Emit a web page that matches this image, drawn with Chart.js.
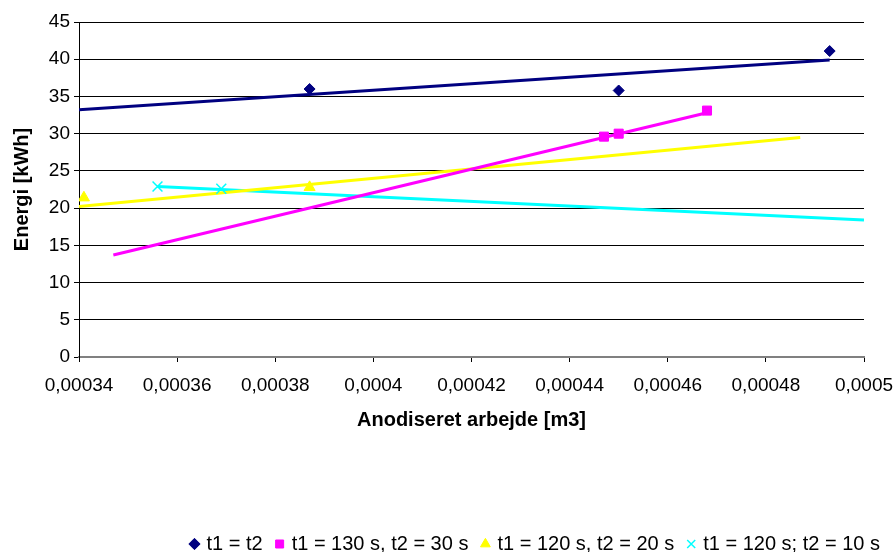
<!DOCTYPE html>
<html>
<head>
<meta charset="utf-8">
<script src="https://cdn.jsdelivr.net/npm/chart.js@4.4.1/dist/chart.umd.min.js"></script>
<style>
  html, body { margin: 0; padding: 0; background: #fff; }
  #wrap { width: 895px; height: 552px; position: relative; }
</style>
</head>
<body>
<div id="wrap"><canvas id="chart"></canvas></div>
<script>
// Legend labels, in legend order
var SERIES_LABELS = ['t1 = t2', 't1 = 130 s, t2 = 30 s', 't1 = 120 s, t2 = 20 s', 't1 = 120 s; t2 = 10 s'];

// Measured points: x = anodiseret arbejde [m3], y = energi [kWh]
var S1_X = [0.000387, 0.000450, 0.000493];
var S1_Y = [36.0, 35.8, 41.1];
var S2_X = [0.000447, 0.000450, 0.000468];
var S2_Y = [29.6, 30.0, 33.1];
var S3_X = [0.000341, 0.000387];
var S3_Y = [21.4, 22.8];
var S4_X = [0.000356, 0.000369];
var S4_Y = [22.9, 22.6];

// Linear trend lines (start / end)
var T1_X = [0.00034, 0.000493];
var T1_Y = [33.2, 39.9];
var T2_X = [0.000347, 0.000468];
var T2_Y = [13.7, 32.8];
var T3_X = [0.00034, 0.000487];
var T3_Y = [20.2, 29.5];
var T4_X = [0.000356, 0.0005];
var T4_Y = [22.9, 18.4];

// Axis ticks
var X_TICKS = [0.00034, 0.00036, 0.00038, 0.0004, 0.00042, 0.00044, 0.00046, 0.00048, 0.0005];
var X_TICK_LABELS = ['0,00034', '0,00036', '0,00038', '0,0004', '0,00042', '0,00044', '0,00046', '0,00048', '0,0005'];
var Y_MIN = 0, Y_MAX = 45, Y_STEP = 5;

var COLORS = ['#000080', '#FF00FF', '#FFFF00', '#00FFFF'];
var FONT = "'Liberation Sans', Arial, sans-serif";

function pts(xs, ys) {
  return xs.map(function(x, i) { return { x: x, y: ys[i] }; });
}

function markerSet(label, xs, ys, color, style, radius, idx) {
  return {
    label: label,
    data: pts(xs, ys),
    showLine: false,
    pointStyle: style,
    pointRadius: radius,
    pointBackgroundColor: color,
    pointBorderColor: color,
    pointBorderWidth: style === 'crossRot' ? 1.5 : 1,
    backgroundColor: color,
    borderColor: color,
    borderWidth: style === 'crossRot' ? 1.5 : 1,
    order: idx
  };
}

function trendSet(xs, ys, color) {
  return {
    label: '',
    data: pts(xs, ys),
    showLine: true,
    pointRadius: 0,
    borderColor: color,
    backgroundColor: color,
    borderWidth: 3,
    fill: false,
    order: 10
  };
}

var datasets = [
  markerSet(SERIES_LABELS[0], S1_X, S1_Y, COLORS[0], 'rectRot', 5.5, 0),
  markerSet(SERIES_LABELS[1], S2_X, S2_Y, COLORS[1], 'rect', 6.4, 1),
  markerSet(SERIES_LABELS[2], S3_X, S3_Y, COLORS[2], 'triangle', 6.4, 2),
  markerSet(SERIES_LABELS[3], S4_X, S4_Y, COLORS[3], 'crossRot', 7, 3),
  trendSet(T1_X, T1_Y, COLORS[0]),
  trendSet(T2_X, T2_Y, COLORS[1]),
  trendSet(T3_X, T3_Y, COLORS[2]),
  trendSet(T4_X, T4_Y, COLORS[3])
];

new Chart(document.getElementById('chart').getContext('2d'), {
  type: 'scatter',
  data: { datasets: datasets },
  options: {
    responsive: true,
    maintainAspectRatio: false,
    animation: false,
    layout: { padding: { top: 22, right: 0, bottom: -12, left: 0 } },
    plugins: {
      tooltip: { enabled: false },
      legend: {
        position: 'bottom',
        align: 'end',
        labels: {
          filter: function(item) { return item.datasetIndex < 4; },
          usePointStyle: true,
          boxWidth: 4,
          boxHeight: 8,
          padding: 15,
          color: '#000',
          font: { family: FONT, size: 20 }
        }
      }
    },
    scales: {
      x: {
        type: 'linear',
        min: X_TICKS[0],
        max: X_TICKS[X_TICKS.length - 1],
        afterBuildTicks: function(scale) {
          scale.ticks = X_TICKS.map(function(v) { return { value: v }; });
        },
        afterFit: function(scale) {
          scale.height = 162;
          scale.paddingRight = 31;
        },
        grid: { drawOnChartArea: false, drawTicks: true, tickLength: 5, color: '#000' },
        border: { color: '#808080', width: 2 },
        ticks: {
          padding: 12,
          maxRotation: 0,
          autoSkip: false,
          color: '#000',
          font: { family: FONT, size: 19 },
          callback: function(value, index) { return X_TICK_LABELS[index]; }
        },
        title: {
          display: true,
          text: 'Anodiseret arbejde [m3]',
          color: '#000',
          font: { family: FONT, size: 20, weight: 'bold' },
          padding: { top: 4, bottom: 87 }
        }
      },
      y: {
        type: 'linear',
        min: Y_MIN,
        max: Y_MAX,
        afterFit: function(scale) { scale.width = 79; },
        grid: { color: '#000', lineWidth: 1, tickLength: 5 },
        border: { color: '#000', width: 1 },
        ticks: {
          stepSize: Y_STEP,
          padding: 4,
          color: '#000',
          font: { family: FONT, size: 19 }
        },
        title: {
          display: true,
          text: 'Energi [kWh]',
          color: '#000',
          font: { family: FONT, size: 20, weight: 'bold' },
          padding: { top: 10, bottom: 0 }
        }
      }
    }
  }
});
</script>
</body>
</html>
